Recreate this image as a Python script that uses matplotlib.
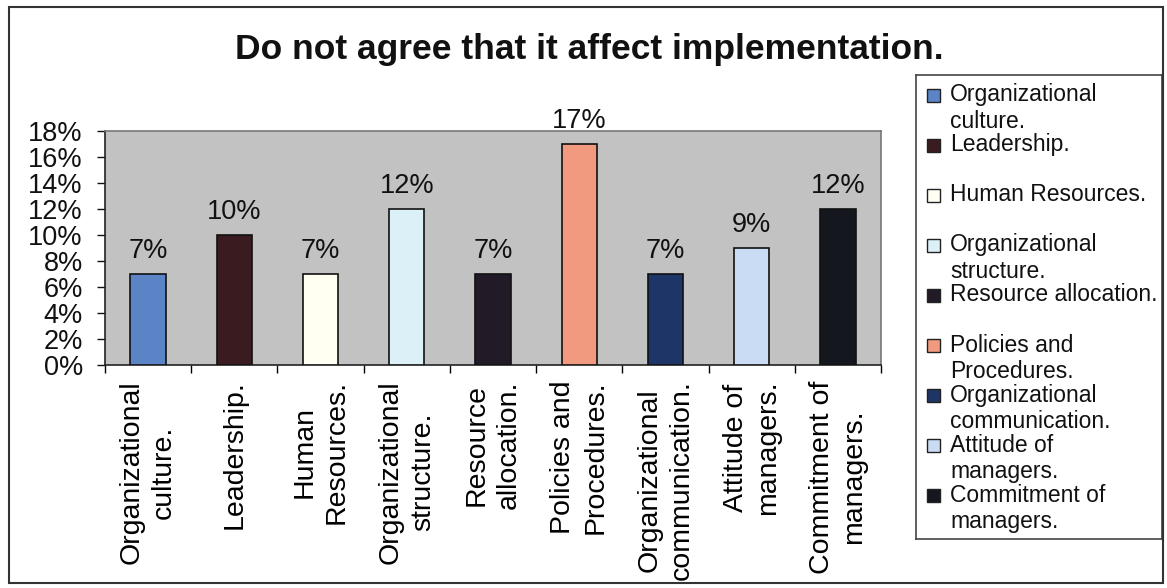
import numpy as np
import matplotlib
matplotlib.use("Agg")
import matplotlib.pyplot as plt
from matplotlib.patches import Rectangle
from matplotlib.ticker import PercentFormatter, FixedLocator

plt.rcParams['font.family'] = ['Liberation Sans', 'DejaVu Sans']

# Data
categories = [
    "Organizational\nculture.",
    "Leadership.",
    "Human\nResources.",
    "Organizational\nstructure.",
    "Resource\nallocation.",
    "Policies and\nProcedures.",
    "Organizational\ncommunication.",
    "Attitude of\nmanagers.",
    "Commitment of\nmanagers.",
]
legend_labels = [
    "Organizational\nculture.",
    "Leadership.",
    "Human Resources.",
    "Organizational\nstructure.",
    "Resource allocation.",
    "Policies and\nProcedures.",
    "Organizational\ncommunication.",
    "Attitude of\nmanagers.",
    "Commitment of\nmanagers.",
]
values = [0.07, 0.10, 0.07, 0.12, 0.07, 0.17, 0.07, 0.09, 0.12]
colors = ["#5a84c6", "#3a1c20", "#fffff2", "#dcf0f8", "#221b27",
          "#f29a80", "#1e3567", "#cadcf4", "#14171d"]
y_ticks = np.arange(0, 0.181, 0.02)
title = "Do not agree that it affect implementation."

W, H = 1167, 588
fig = plt.figure(figsize=(W / 100, H / 100), dpi=100)
fig.patch.set_facecolor("white")

# outer chart frame
fig.patches.append(Rectangle((9 / W, 1 - 583 / H), (1163 - 9) / W, (583 - 7) / H,
                             transform=fig.transFigure, fill=False,
                             edgecolor="#333333", linewidth=1.5))

# plot area
ax = fig.add_axes([105 / W, 1 - 365 / H, (881 - 105) / W, (365 - 131) / H])
ax.set_facecolor("#c2c2c2")
x = np.arange(len(values))
ax.bar(x, values, width=0.41, color=colors, edgecolor="#111111", linewidth=1.2, zorder=3)

for xi, v in zip(x, values):
    ax.annotate(f"{v * 100:.0f}%", (xi, v), xytext=(0, 11.5), textcoords="offset points",
                ha="center", va="baseline", fontsize=19.5, color="#111111",
                annotation_clip=False)

ax.set_xlim(-0.5, len(values) - 0.5)
ax.set_ylim(0, 0.18)
ax.yaxis.set_major_locator(FixedLocator(y_ticks))
ax.yaxis.set_major_formatter(PercentFormatter(1.0, decimals=0))
ax.tick_params(axis="y", length=6, width=1, pad=10, labelsize=19.5, colors="#111111")

ax.set_xticks(x)
ax.set_xticklabels(categories, rotation=90, ha="center", va="top",
                   multialignment="center", fontsize=20.5, linespacing=1.3)
ax.set_xticks(np.arange(-0.5, len(values)), minor=True)
ax.tick_params(axis="x", which="major", length=0, pad=11)
ax.tick_params(axis="x", which="minor", length=6, width=1)

for side in ("top", "right"):
    ax.spines[side].set_color("#777777")
    ax.spines[side].set_linewidth(1.2)
for side in ("left", "bottom"):
    ax.spines[side].set_color("#222222")
    ax.spines[side].set_linewidth(1.2)

fig.text(589 / W, 1 - 50 / H, title, ha="center", va="center",
         fontsize=25.5, fontweight="bold", color="#111111")

# legend box, laid out in pixel units from its top-left corner
lx0, ly0, lx1, ly1 = 916, 75, 1162, 539
lax = fig.add_axes([lx0 / W, 1 - ly1 / H, (lx1 - lx0) / W, (ly1 - ly0) / H])
lax.set_xlim(0, lx1 - lx0)
lax.set_ylim(ly1 - ly0, 0)
lax.set_xticks([])
lax.set_yticks([])
for s in lax.spines.values():
    s.set_color("#444444")
    s.set_linewidth(1.2)

first_line = 20
slot = 50.1
for i, (lab, c) in enumerate(zip(legend_labels, colors)):
    yc = first_line + i * slot
    lax.add_patch(Rectangle((11, yc - 6.5), 13, 13, facecolor=c,
                            edgecolor="#222222", linewidth=1.0))
    lax.text(34, yc - 12, lab, ha="left", va="top", fontsize=16.5,
             linespacing=1.2, color="#111111")

fig.savefig("out.png", dpi=100)
